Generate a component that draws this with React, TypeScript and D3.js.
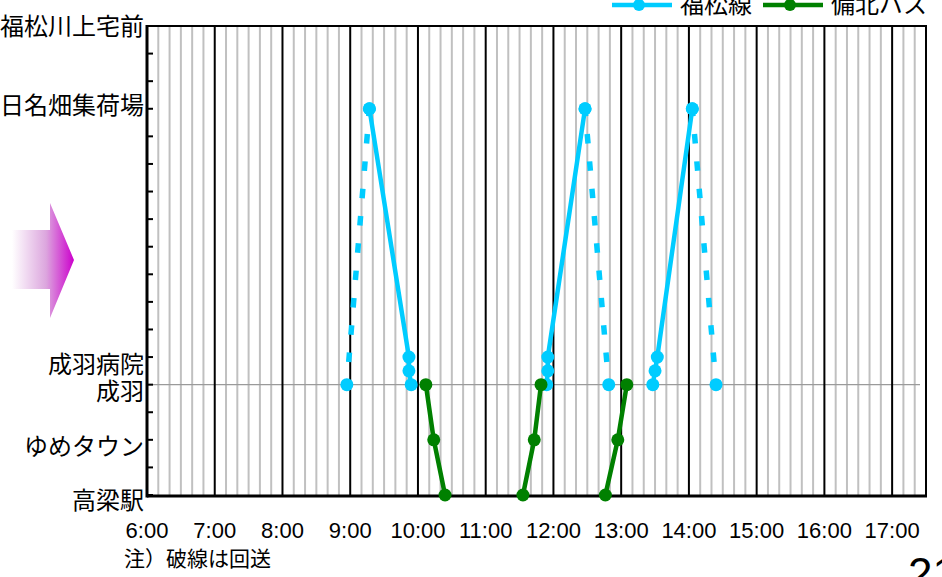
import React from 'react';
import * as d3 from 'd3';

type Pt = [string, number];

// stops on the vertical axis (position index along the route)
const stopNames = ['高梁駅', 'ゆめタウン', '成羽', '成羽病院', '日名畑集荷場', '福松川上宅前'];
const stopLevels = [0, 2, 4, 5, 14, 17];
const hourLabels = ['6:00', '7:00', '8:00', '9:00', '10:00', '11:00', '12:00', '13:00', '14:00', '15:00', '16:00', '17:00'];
const legendNames = ['福松線', '備北バス'];
const noteText = '注）破線は回送';
const pageNumber = '21';

// 福松線 (service trips, solid)
const fukumatsuTrip1: Pt[] = [['9:17', 14], ['9:52', 5], ['9:52', 4.5], ['9:54', 4]];
const fukumatsuTrip2: Pt[] = [['11:54', 4], ['11:55', 4.5], ['11:55', 5], ['12:28', 14]];
const fukumatsuTrip3: Pt[] = [['13:28', 4], ['13:30', 4.5], ['13:32', 5], ['14:03', 14]];
// 福松線 (回送, dashed)
const fukumatsuDeadhead1: Pt[] = [['8:57', 4], ['9:17', 14]];
const fukumatsuDeadhead2: Pt[] = [['12:28', 14], ['12:49', 4]];
const fukumatsuDeadhead3: Pt[] = [['14:03', 14], ['14:24', 4]];
// 備北バス
const bihokuTrip1: Pt[] = [['10:07', 4], ['10:14', 2], ['10:24', 0]];
const bihokuTrip2: Pt[] = [['11:33', 0], ['11:43', 2], ['11:49', 4]];
const bihokuTrip3: Pt[] = [['12:46', 0], ['12:57', 2], ['13:05', 4]];

const CYAN = '#00CCFF';
const GREEN = '#008000';
const CJK = "'Noto Sans CJK JP', 'Noto Sans', sans-serif";
const LAT = "'Liberation Sans', Arial, sans-serif";

const toMin = (t: string) => {
  const [h, m] = t.split(':').map(Number);
  return h * 60 + m;
};

export default function App() {
  const left = 147, right = 926, top = 26, bottom = 495;
  const x = d3.scaleLinear().domain([360, 1050]).range([left, right]);
  const y = d3.scaleLinear().domain([0, 17]).range([bottom, top]);
  const line = d3.line<Pt>().x(d => x(toMin(d[0]))).y(d => y(d[1]));

  const minorMinutes = d3.range(370, 1050, 10).filter(m => m % 60 !== 0);
  const hourMinutes = d3.range(420, 1051, 60).concat([1050]);
  const yTicks = d3.range(0, 18);

  const solidCyan = [fukumatsuTrip1, fukumatsuTrip2, fukumatsuTrip3];
  const dashedCyan = [fukumatsuDeadhead1, fukumatsuDeadhead2, fukumatsuDeadhead3];
  const greenTrips = [bihokuTrip1, bihokuTrip2, bihokuTrip3];

  const labelNudge: Record<number, number> = { 17: 9, 14: 5.3, 5: 15.5, 4: 15.5, 2: 15, 0: 14 };
  const R = 6.5;

  return (
    <svg width={942} height={577} style={{ position: 'absolute', left: 0, top: 0, display: 'block', background: '#fff' }}>
      <defs>
        <linearGradient id="arrowGrad" gradientUnits="userSpaceOnUse" x1={12} y1={0} x2={74} y2={0}>
          <stop offset="0%" stopColor="#ffffff" />
          <stop offset="55%" stopColor="#dca6de" />
          <stop offset="100%" stopColor="#cc00cc" />
        </linearGradient>
      </defs>

      {/* minor 10-min gridlines */}
      {minorMinutes.map(m => (
        <line key={'mi' + m} x1={x(m)} x2={x(m)} y1={top} y2={bottom} stroke="#c0c0c0" strokeWidth={2} />
      ))}
      {/* reference line at 成羽 */}
      <line x1={left} x2={920} y1={y(4)} y2={y(4)} stroke="#9a9a9a" strokeWidth={1.3} />
      {/* hour lines */}
      {hourMinutes.map(m => (
        <line key={'h' + m} x1={x(m)} x2={x(m)} y1={top} y2={bottom} stroke="#000" strokeWidth={2} />
      ))}
      {/* frame */}
      <line x1={left} x2={right + 1} y1={top} y2={top} stroke="#000" strokeWidth={2} />
      <line x1={left} x2={right + 1} y1={bottom + 1} y2={bottom + 1} stroke="#000" strokeWidth={3} />
      <line x1={left} x2={left} y1={top - 1} y2={bottom + 2.5} stroke="#000" strokeWidth={3} />
      {yTicks.map(t => (
        <line key={'yt' + t} x1={left} x2={left + 6} y1={y(t)} y2={y(t)} stroke="#000" strokeWidth={2} />
      ))}

      {/* 福松線 dashed (回送) */}
      {dashedCyan.map((trip, i) => {
        const ordered = [...trip].sort((a, b) => b[1] - a[1]);
        return (
          <path key={'dc' + i} d={line(ordered) || ''} fill="none" stroke={CYAN} strokeWidth={5.5}
            strokeDasharray="9.5 17.9" strokeDashoffset={2} />
        );
      })}
      {/* 福松線 solid */}
      {solidCyan.map((trip, i) => (
        <path key={'sc' + i} d={line(trip) || ''} fill="none" stroke={CYAN} strokeWidth={4.5} strokeLinejoin="round" />
      ))}
      {[...solidCyan, ...dashedCyan].flat().map((p, i) => (
        <circle key={'cc' + i} cx={x(toMin(p[0]))} cy={y(p[1])} r={R} fill={CYAN} />
      ))}
      {/* 備北バス */}
      {greenTrips.map((trip, i) => (
        <path key={'g' + i} d={line(trip) || ''} fill="none" stroke={GREEN} strokeWidth={4.5} strokeLinejoin="round" />
      ))}
      {greenTrips.flat().map((p, i) => (
        <circle key={'gc' + i} cx={x(toMin(p[0]))} cy={y(p[1])} r={R} fill={GREEN} />
      ))}

      {/* y labels */}
      {stopNames.map((name, i) => (
        <text key={'yl' + i} x={144} y={y(stopLevels[i]) + labelNudge[stopLevels[i]]} textAnchor="end"
          fontFamily={CJK} fontSize={24} fill="#000">{name}</text>
      ))}
      {/* x labels */}
      {hourLabels.map((lab, i) => (
        <text key={'xl' + i} x={x(360 + i * 60)} y={538} textAnchor="middle" fontFamily={LAT} fontSize={22} fill="#000">{lab}</text>
      ))}

      {/* legend */}
      <line x1={612} x2={672} y1={5} y2={5} stroke={CYAN} strokeWidth={4.5} />
      <circle cx={639} cy={5} r={6} fill={CYAN} />
      <text x={680} y={13} fontFamily={CJK} fontSize={24} fill="#000">{legendNames[0]}</text>
      <line x1={763} x2={823} y1={5} y2={5} stroke={GREEN} strokeWidth={4.5} />
      <circle cx={790} cy={5} r={6} fill={GREEN} />
      <text x={831} y={13} fontFamily={CJK} fontSize={24} fill="#000">{legendNames[1]}</text>

      {/* arrow */}
      <path d="M12,230 L50,230 L50,203 L74,260 L50,318 L50,289 L12,289 Z" fill="url(#arrowGrad)" />

      {/* note and page number */}
      <text x={124} y={566} fontFamily={CJK} fontSize={21} fill="#000">{noteText}</text>
      <text x={908} y={589} fontFamily={LAT} fontSize={44} fill="#000">{pageNumber}</text>
    </svg>
  );
}
